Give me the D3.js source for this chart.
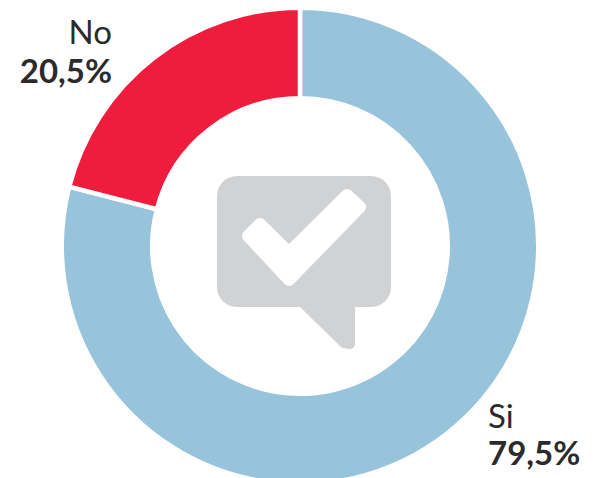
<!DOCTYPE html>
<html>
<head>
<meta charset="utf-8">
<script src="https://cdnjs.cloudflare.com/ajax/libs/d3/7.8.5/d3.min.js"></script>
<style>
	html, body { margin: 0; padding: 0; background: #fff; }
	text { font-family: Lato, "Open Sans", sans-serif; fill: #2b2a2c; font-size: 33px; }
</style>
</head>
<body>
<div id="chart"></div>
<script>
var categories = ["Si", "No"]
// ring shares, the printed labels are rounded differently
var shares = [79, 21]
var valueLabels = ["79,5%", "20,5%"]
var colors = ["#97c4db", "#f01c3c"]

var width = 602, height = 478
var svg = d3.select("#chart").append("svg").attr("width", width).attr("height", height).style("display", "block")
var chart = svg.append("g").attr("transform", "translate(300,246)")

var pie = d3.pie().sort(null)
var arc = d3.arc().innerRadius(147.75).outerRadius(238.25)

chart.selectAll("path.slice").data(pie(shares)).enter().append("path")
	.attr("class", "slice")
	.attr("d", arc)
	.attr("fill", function(d, i) { return colors[i] })
	.attr("stroke", "#fff")
	.attr("stroke-width", 4.5)

// speech bubble in the hole
var icon = svg.append("g")
icon.append("rect").attr("x", 217).attr("y", 176).attr("width", 174).attr("height", 131).attr("rx", 20).attr("fill", "#d0d2d4")
icon.append("path").attr("d", "M303,303L344,343L350,344L350,303Z")
	.attr("fill", "#d0d2d4").attr("stroke", "#d0d2d4").attr("stroke-width", 10).attr("stroke-linejoin", "round")
icon.append("path").attr("d", "M248,236L260,224L289,252.5L347,195L360,207L289,280Z")
	.attr("fill", "#fff").attr("stroke", "#fff").attr("stroke-width", 12).attr("stroke-linejoin", "round")

// labels
svg.append("text").attr("x", 112).attr("y", 44).attr("text-anchor", "end")
	.style("font-weight", 400).text(categories[1])
svg.append("text").attr("x", 112).attr("y", 83).attr("text-anchor", "end")
	.style("font-weight", 700).text(valueLabels[1])
svg.append("text").attr("x", 488).attr("y", 428)
	.style("font-weight", 400).text(categories[0])
svg.append("text").attr("x", 488).attr("y", 465)
	.style("font-weight", 700).text(valueLabels[0])
</script>
</body>
</html>
